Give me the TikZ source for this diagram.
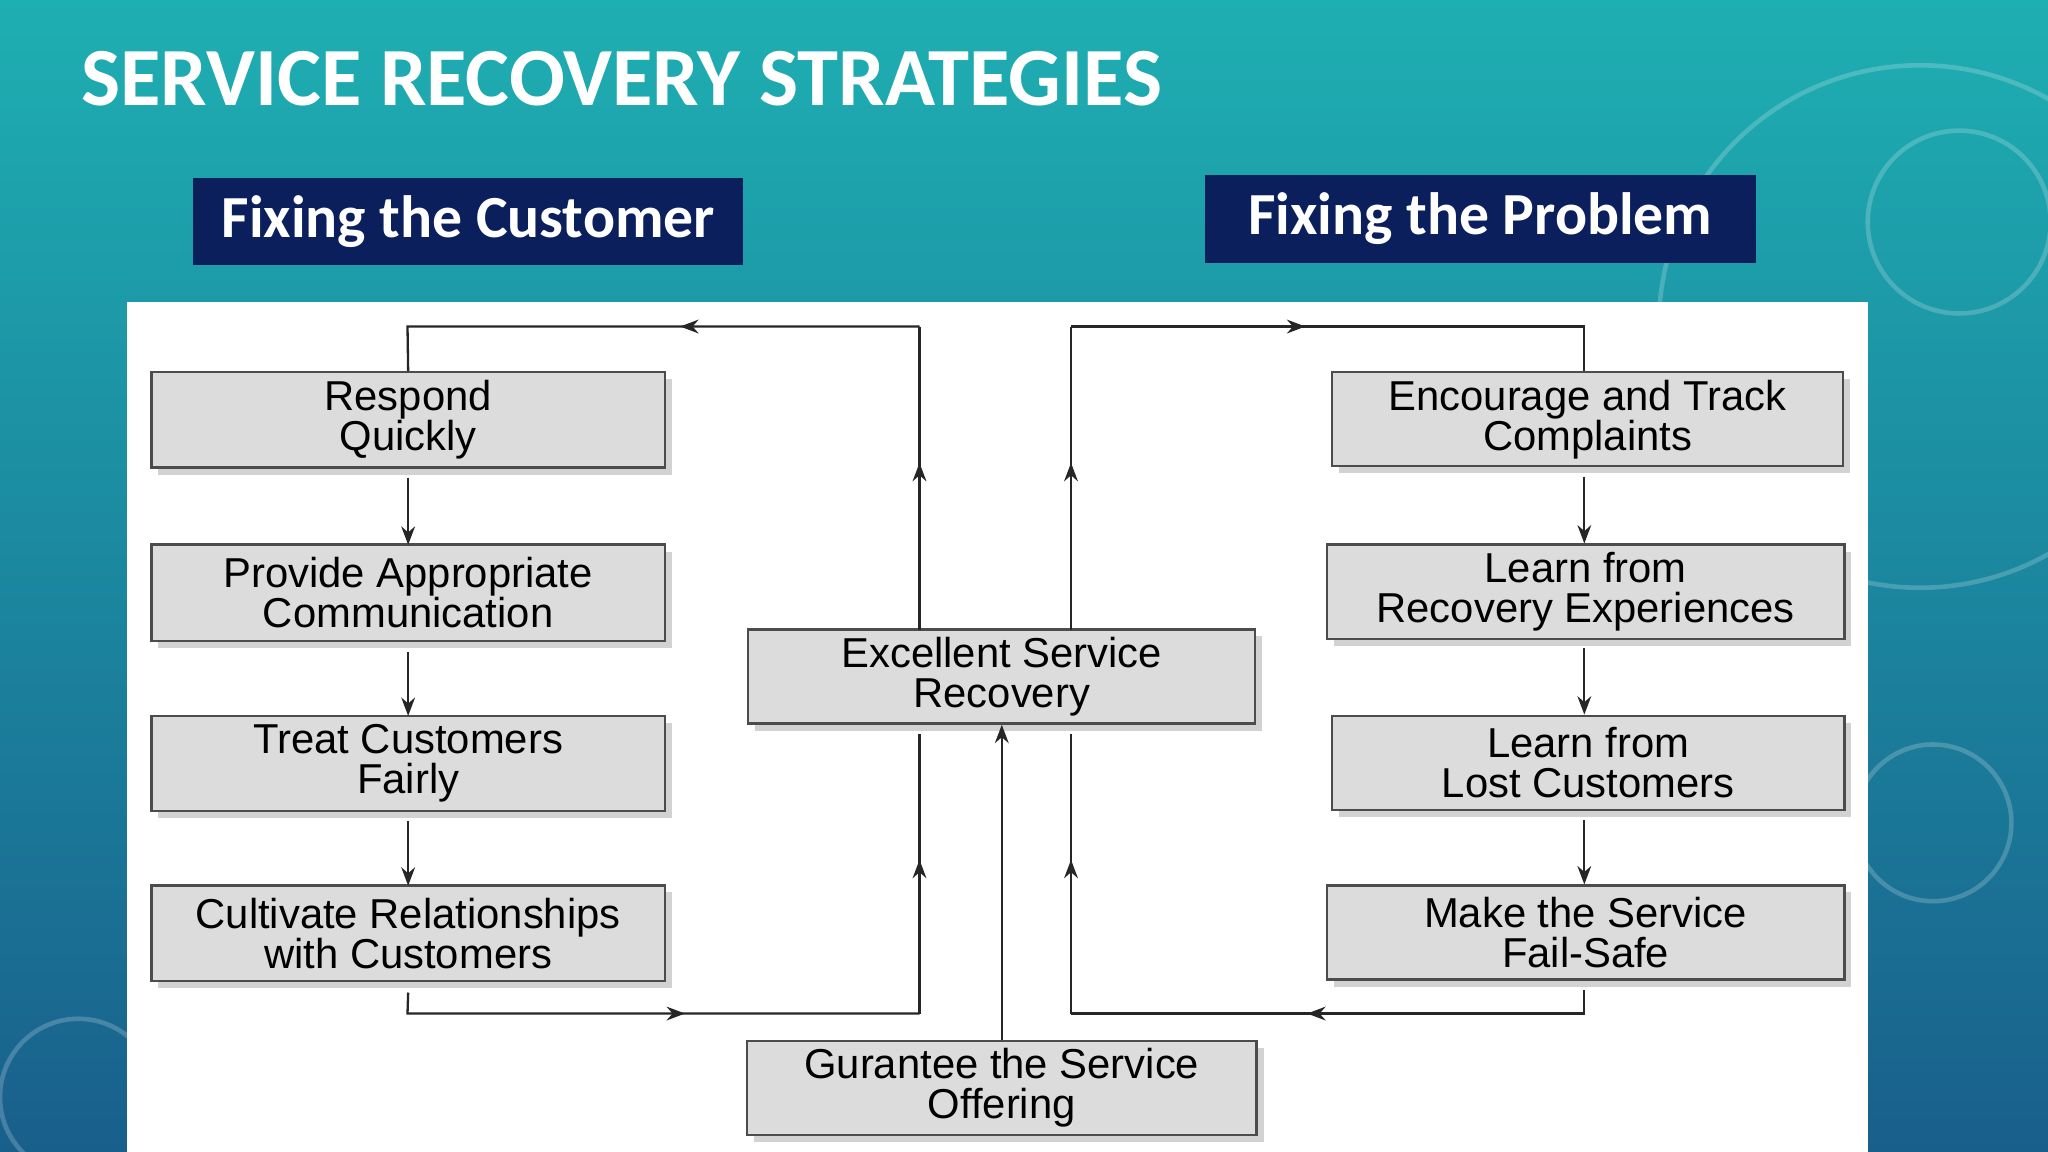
\documentclass[tikz,border=0pt]{standalone}
\usepackage{fontspec}
\setmainfont{Liberation Sans}
\newfontfamily\hdr{Carlito}
\usetikzlibrary{decorations.markings,arrows.meta,shadows}
\definecolor{navy}{HTML}{0A1F5C}
\definecolor{boxg}{HTML}{DCDCDC}
\begin{document}
\begin{tikzpicture}[x=0.01cm,y=-0.01cm,
  box/.style={draw=black!70,line width=0.5pt,fill=boxg,inner sep=0pt,align=center,font=\fontsize{9.1}{8.7}\selectfont,drop shadow={opacity=0.35,shadow xshift=1.5pt,shadow yshift=-1.5pt}},
  hd/.style={fill=navy,text=white,inner sep=0pt,font=\hdr\bfseries\fontsize{13}{14}\selectfont},
  ln/.style={line width=0.5pt,black!85},
  arr/.style={ln,-{Stealth[length=4pt,width=3pt]}},
  mid/.style={ln,postaction={decorate},decoration={markings,mark=at position #1 with {\arrow{Stealth[length=4pt,width=3pt]}}}}]
\useasboundingbox (0,0) rectangle (1568,882);
\shade[top color={rgb,255:red,30;green,175;blue,178},bottom color={rgb,255:red,25;green,95;blue,140}] (0,0) rectangle (1568,882);
\foreach \c/\r in {{(1500,170)/70},{(1480,630)/60},{(1470,250)/200},{(60,840)/60}}
  \draw[white,opacity=0.2,line width=1pt] \c circle (\r);
\node[anchor=west,text=white,font=\hdr\bfseries\fontsize{18}{20}\selectfont] (title) at (50,60) {SERVICE RECOVERY STRATEGIES};
\node[hd,minimum width=4.21cm,minimum height=0.67cm] (fc) at (358.5,169.5) {Fixing the Customer};
\node[hd,minimum width=4.21cm,minimum height=0.67cm] (fp) at (1133.5,167.5) {Fixing the Problem};
\fill[white] (97,231) rectangle (1430,882);
% left
\node[box,minimum width=3.93cm,minimum height=0.73cm] (l1) at (312.5,321.5) {Respond\\Quickly};
\node[box,minimum width=3.93cm,minimum height=0.74cm] (l2) at (312.5,454) {Provide Appropriate\\Communication};
\node[box,minimum width=3.93cm,minimum height=0.73cm] (l3) at (312.5,584.5) {Treat Customers\\Fairly};
\node[box,minimum width=3.93cm,minimum height=0.73cm] (l4) at (312.5,714.5) {Cultivate Relationships\\with Customers};
% right
\node[box,minimum width=3.91cm,minimum height=0.72cm] (r1) at (1215.5,321) {Encourage and Track\\Complaints};
\node[box,minimum width=3.96cm,minimum height=0.72cm] (r2) at (1214,453) {Learn from\\Recovery Experiences};
\node[box,minimum width=3.92cm,minimum height=0.72cm] (r3) at (1216,584) {Learn from\\Lost Customers};
\node[box,minimum width=3.96cm,minimum height=0.72cm] (r4) at (1214,714) {Make the Service\\Fail-Safe};
% center
\node[box,minimum width=3.88cm,minimum height=0.72cm] (ex) at (767,518) {Excellent Service\\Recovery};
\node[box,minimum width=3.90cm,minimum height=0.72cm] (gu) at (767,833) {Gurantee the Service\\Offering};
% vertical arrows
\draw[arr] ([yshift=-0.07cm]l1.south) -- ([yshift=-0.01cm]l2.north);
\draw[arr] ([yshift=-0.07cm]l2.south) -- ([yshift=-0.01cm]l3.north);
\draw[arr] ([yshift=-0.07cm]l3.south) -- ([yshift=-0.01cm]l4.north);
\draw[arr] (1213,365) -- (1213,365 |- r2.north);
\draw[arr] (1213,496) -- (1213,496 |- r3.north);
\draw[arr] (1213,628) -- (1213,628 |- r4.north);
\draw[arr] (gu.north) -- (ex.south);
% loops
\coordinate (tl) at (704,250); \coordinate (tr) at (820,250);
\coordinate (bl) at (704,776); \coordinate (br) at (820,776);
\coordinate (exl) at (704,482); \coordinate (exr) at (820,482);
\coordinate (exlb) at (704,562); \coordinate (exrb) at (820,562);
\draw[mid=0.55] (exl) -- (tl);
\draw[mid=0.43] (tl) -- (312,250) -- (l1.north);
\draw[mid=0.55] (exr) -- (tr);
\draw[mid=0.42] (tr) -- (1213,250) -- (1213,250 |- r1.north);
\draw[mid=0.56] ([yshift=-0.08cm]l4.south) -- (312,776) -- (bl);
\draw[mid=0.55] (bl) -- (exlb);
\draw[mid=0.56] (1213,758) -- (1213,776) -- (br);
\draw[mid=0.55] (br) -- (exrb);
\end{tikzpicture}
\end{document}
